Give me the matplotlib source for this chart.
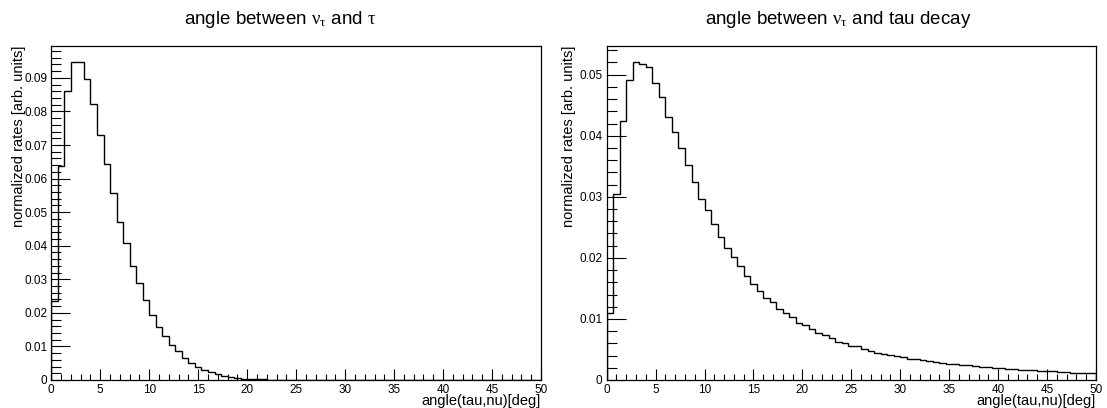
import numpy as np
import matplotlib
matplotlib.use("Agg")
import matplotlib.pyplot as plt
from matplotlib.ticker import MultipleLocator, FuncFormatter

plt.rcParams['font.family'] = ['Liberation Sans', 'DejaVu Sans']
plt.rcParams['mathtext.fontset'] = 'custom'
plt.rcParams['mathtext.rm'] = 'Liberation Serif'
plt.rcParams['mathtext.it'] = 'Liberation Serif'
plt.rcParams['mathtext.default'] = 'rm'

# 75 bins from 0 to 50 deg
bin_edges = np.linspace(0, 50, 76)

tau_values = [
    0.0235, 0.0637, 0.0861, 0.0947, 0.0948, 0.0897, 0.0822, 0.0731, 0.0644, 0.0557,
    0.0472, 0.0408, 0.0340, 0.0288, 0.0237, 0.0193, 0.0159, 0.0130, 0.0105, 0.0085,
    0.0065, 0.0050, 0.0040, 0.0031, 0.0023, 0.0017, 0.0013, 0.0009, 0.0006, 0.0004,
    0.0003, 0.0002, 0.00015, 0.0001, 0.00007, 0.00005, 0.00003, 0.00002, 0.00001, 0.0,
    0.0, 0.0, 0.0, 0.0, 0.0, 0.0, 0.0, 0.0, 0.0, 0.0,
    0.0, 0.0, 0.0, 0.0, 0.0, 0.0, 0.0, 0.0, 0.0, 0.0,
    0.0, 0.0, 0.0, 0.0, 0.0, 0.0, 0.0, 0.0, 0.0, 0.0,
    0.0, 0.0, 0.0, 0.0, 0.0,
]

decay_values = [
    0.0110, 0.0304, 0.0424, 0.0491, 0.0521, 0.0518, 0.0512, 0.0487, 0.0464, 0.0430,
    0.0406, 0.0380, 0.0352, 0.0324, 0.0296, 0.0278, 0.0255, 0.0235, 0.0216, 0.0201,
    0.0186, 0.0170, 0.0158, 0.0145, 0.0134, 0.0128, 0.0117, 0.0110, 0.0103, 0.0094,
    0.0090, 0.0083, 0.0077, 0.0073, 0.0069, 0.0062, 0.0060, 0.0056, 0.0055, 0.0050,
    0.0048, 0.0045, 0.0043, 0.0041, 0.0039, 0.0037, 0.0035, 0.0034, 0.0032, 0.0031,
    0.0030, 0.0028, 0.0027, 0.0026, 0.0025, 0.0024, 0.0023, 0.0022, 0.0021, 0.0020,
    0.0019, 0.0018, 0.0018, 0.0017, 0.0016, 0.0016, 0.0015, 0.0014, 0.0014, 0.0013,
    0.0013, 0.0012, 0.0012, 0.0011, 0.0011,
]

titles = [r"angle between $\nu_{\tau}$ and $\tau$",
          r"angle between $\nu_{\tau}$ and tau decay"]
xlabel = "angle(tau,nu)[deg]"
ylabel = "normalized rates [arb. units]"
ymaxes = [0.0995, 0.0547]

fig = plt.figure(figsize=(11.07, 4.08), dpi=100)
W, H = 1107, 408
panels = [(51.3, 541.0), (606.7, 1096.0)]
title_x = [280, 838]
ylabel_x = [19, 569]
top_px, bot_px = 46, 380

for i, (vals, title, ymax) in enumerate(zip([tau_values, decay_values], titles, ymaxes)):
    x0, x1 = panels[i]
    ax = fig.add_axes([x0 / W, 1 - bot_px / H, (x1 - x0) / W, (bot_px - top_px) / H])
    ax.stairs(vals, bin_edges, baseline=0, color='black', linewidth=1.0)
    ax.set_xlim(0, 50)
    ax.set_ylim(0, ymax)
    ax.xaxis.set_major_locator(MultipleLocator(5))
    ax.xaxis.set_minor_locator(MultipleLocator(1))
    ax.yaxis.set_major_locator(MultipleLocator(0.01))
    ax.yaxis.set_minor_locator(MultipleLocator(0.002))
    ax.yaxis.set_major_formatter(FuncFormatter(lambda v, p: f"{v:g}"))
    ax.tick_params(axis='both', which='both', direction='in', top=False, right=False,
                   labelsize=8.5, width=0.8)
    ax.tick_params(axis='y', which='major', length=14, pad=3)
    ax.tick_params(axis='y', which='minor', length=7)
    ax.tick_params(axis='x', which='major', length=8, pad=3)
    ax.tick_params(axis='x', which='minor', length=4)
    for s in ax.spines.values():
        s.set_linewidth(0.9)
    ax.set_xlabel(xlabel, fontsize=10.5, loc='right')
    ax.xaxis.label.set_va('center')
    ax.xaxis.set_label_coords(1.0, -(401 - bot_px) / (bot_px - top_px))
    ax.set_ylabel(ylabel, fontsize=10.5, loc='top')
    ax.yaxis.label.set_va('center')
    ax.yaxis.set_label_coords(-(x0 - ylabel_x[i]) / (x1 - x0), 1.0)
    fig.text(title_x[i] / W, 1 - 20 / H, title, fontsize=13.5, ha='center', va='center')

fig.savefig("out.png", dpi=100)
